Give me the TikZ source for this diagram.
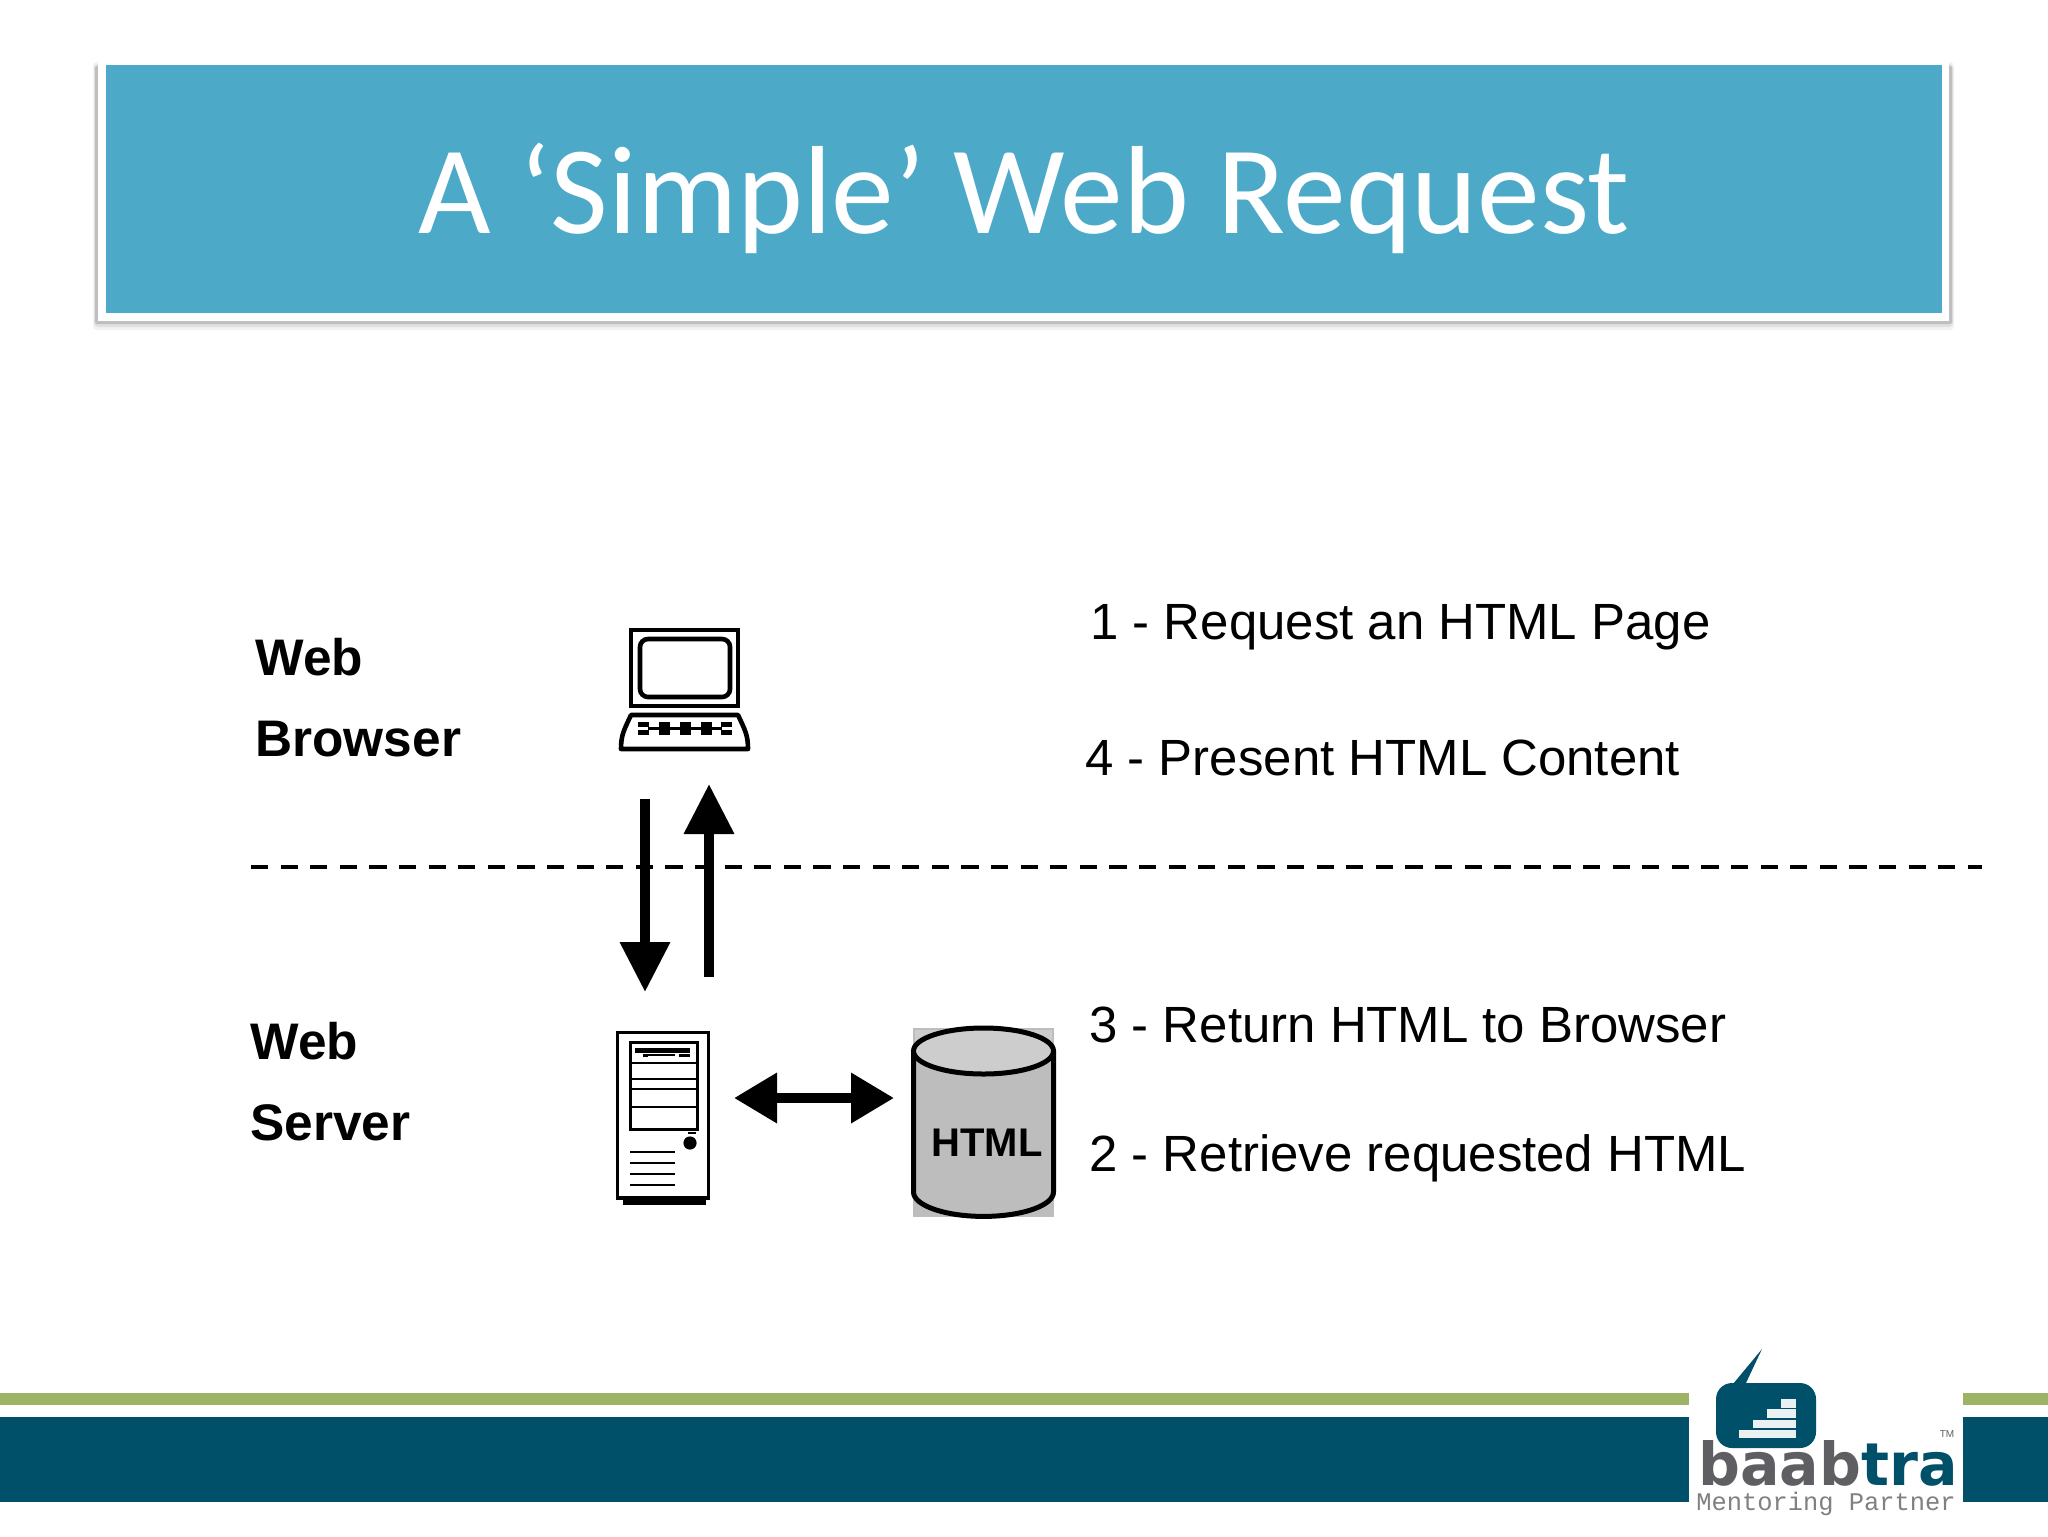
\documentclass[tikz,border=0pt]{standalone}
\usepackage{fontspec}
\setmainfont{Liberation Sans}
\newfontfamily\titlefont{Carlito}
\newfontfamily\logomono{Liberation Mono}
\newfontfamily\logobold{DejaVu Sans}
\usetikzlibrary{arrows.meta}
\definecolor{banner}{HTML}{4DA9C8}
\definecolor{bandteal}{HTML}{00506A}
\definecolor{bandgreen}{HTML}{9DB467}
\definecolor{logogrey}{HTML}{5F5F63}
\definecolor{dbside}{HTML}{BDBDBD}
\definecolor{dbtop}{HTML}{CDCDCD}
\tikzset{
  lbl/.style={anchor=base west,inner sep=0pt,font=\fontsize{25.7pt}{30pt}\selectfont\bfseries},
  steptext/.style={anchor=base west,inner sep=0pt,font=\fontsize{25.47pt}{30pt}\selectfont},
  flowarrow/.style={line width=5pt,-{Triangle[length=25pt,width=24pt]}},
  bothways/.style={line width=5pt,{Triangle[length=21.5pt,width=24pt]}-{Triangle[length=21.5pt,width=24pt]}},
  iconline/.style={draw=black,line width=2.3pt},
}
\begin{document}
\begin{tikzpicture}[x=0.5pt,y=-0.5pt]
\useasboundingbox (0,0) rectangle (2048,1536);
\fill[white] (0,0) rectangle (2048,1536);
% banner
\fill[black!5,rounded corners=2pt] (93,62) rectangle (1954,330);
\fill[black!12,rounded corners=2pt] (94,64) rectangle (1953,327);
\fill[black!25,rounded corners=1pt] (95,66) rectangle (1952,324);
\fill[white] (98,59) rectangle (1949,321);
\fill[banner] (106,65) rectangle (1942,313);
\node[anchor=base,inner sep=0pt,text=white,font=\titlefont\fontsize{62.7pt}{66pt}\selectfont] (title) at (1024,233) {A ‘Simple’ Web Request};
% bottom band
\fill[bandgreen] (0,1393) rectangle (1689,1405);
\fill[bandgreen] (1963,1393) rectangle (2048,1405);
\fill[bandteal] (0,1417) rectangle (1689,1502);
\fill[bandteal] (1963,1417) rectangle (2048,1502);
% logo
\fill[bandteal,rounded corners=8pt] (1716,1383) rectangle (1816,1448);
\fill[bandteal] (1718,1402) -- (1762,1349) -- (1745,1385) -- (1750,1400) -- cycle;
\fill[white!92!bandteal] (1739,1438) rectangle (1796,1430);
\fill[white!92!bandteal] (1753,1428) rectangle (1796,1420);
\fill[white!92!bandteal] (1767,1418) rectangle (1796,1409);
\fill[white!92!bandteal] (1781,1408) rectangle (1796,1399);
\node[inner sep=0pt,anchor=base west,font=\logobold\bfseries\fontsize{29.6pt}{32pt}\selectfont] (logoword) at (1698,1485) {\scalebox{0.99}[1]{\textcolor{logogrey}{baab}\textcolor{bandteal}{tra}}};
\node[inner sep=0pt,anchor=base west,text=black!50,font=\logomono\fontsize{12.7pt}{14pt}\selectfont] (logosub) at (1696,1510) {Mentoring Partner};
\node[inner sep=0pt,text=logogrey,font=\fontsize{5pt}{6pt}\selectfont] (logotm) at (1947,1434) {TM};
% labels
\node[lbl] (wb1) at (255,675) {Web};
\node[lbl] (wb2) at (255,756) {Browser};
\node[lbl] (ws1) at (250,1059) {Web};
\node[lbl] (ws2) at (250,1140) {Server};
\node[steptext] (s1) at (1090,639) {1 - Request an HTML Page};
\node[steptext] (s4) at (1085,775) {4 - Present HTML Content};
\node[steptext] (s3) at (1089,1042) {3 - Return HTML to Browser};
\node[steptext] (s2) at (1089,1171) {2 - Retrieve requested HTML};
% dashed divider
\coordinate (divL) at (251,867);
\coordinate (divR) at (1982,867);
\draw[line width=2.4pt,dash pattern=on 8.6pt off 6.2pt] (divL) -- (divR);
% laptop
\draw[iconline] (631,630) rectangle (738,706);
\draw[iconline,rounded corners=4pt] (640,639) rectangle (730,697);
\draw[iconline,line join=round] (631,715) -- (738,715) .. controls (745,730) and (748,735) .. (748,749) -- (621,749) .. controls (621,735) and (624,730) .. (631,715) -- cycle;
\foreach \kx in {638,659,680,701,721}{
  \fill (\kx,722) rectangle ++(10.5,4.5);
  \fill (\kx,730) rectangle ++(10.5,4.5);
}
\fill (648,726.5) rectangle (722,729.5);
% server
\fill (623,1196) rectangle (706,1205);
\draw[line width=1.7pt,fill=white] (617.5,1032.5) rectangle (708.5,1198);
\draw[line width=1.5pt] (630,1042) rectangle (697,1129);
\foreach \sy in {1063,1079,1089,1107}{\draw[line width=1.3pt] (630,\sy) -- (697,\sy);}
\fill (635,1048) rectangle (690,1053);
\fill (643,1054) rectangle (675,1055.5);
\fill (643,1054) rectangle (648,1057);
\fill (679,1054) rectangle (690,1057);
\fill (688,1132) rectangle (696,1134);
\fill (690,1143) circle[radius=3.3pt];
\foreach \sy in {1152,1163,1174,1185}{\draw[line width=1.3pt] (630,\sy) -- (675,\sy);}
% database
\fill[dbside] (913,1028) rectangle (1054,1217);
\fill[dbtop] (915,1030) rectangle (1052,1070);
\draw[line width=2.5pt,fill=dbside] (913.5,1051) -- (913.5,1192) arc[start angle=180,end angle=360,x radius=35pt,y radius=12.2pt] -- (1053.5,1051);
\draw[line width=2.5pt,fill=dbtop] (983.5,1051) ellipse[x radius=70,y radius=23];
\node[inner sep=0pt,anchor=base,font=\fontsize{20pt}{22pt}\selectfont\bfseries] (html) at (987,1156) {HTML};
% named ends of connectors
\coordinate (downStart) at (645,799);
\coordinate (downEnd) at (645,992);
\coordinate (upStart) at (709,977);
\coordinate (upEnd) at (709,784);
\coordinate (bothL) at (734,1098);
\coordinate (bothR) at (894,1098);
\draw[flowarrow] (downStart) -- (downEnd);
\draw[flowarrow] (upStart) -- (upEnd);
\draw[bothways] (bothL) -- (bothR);
\end{tikzpicture}
\end{document}
